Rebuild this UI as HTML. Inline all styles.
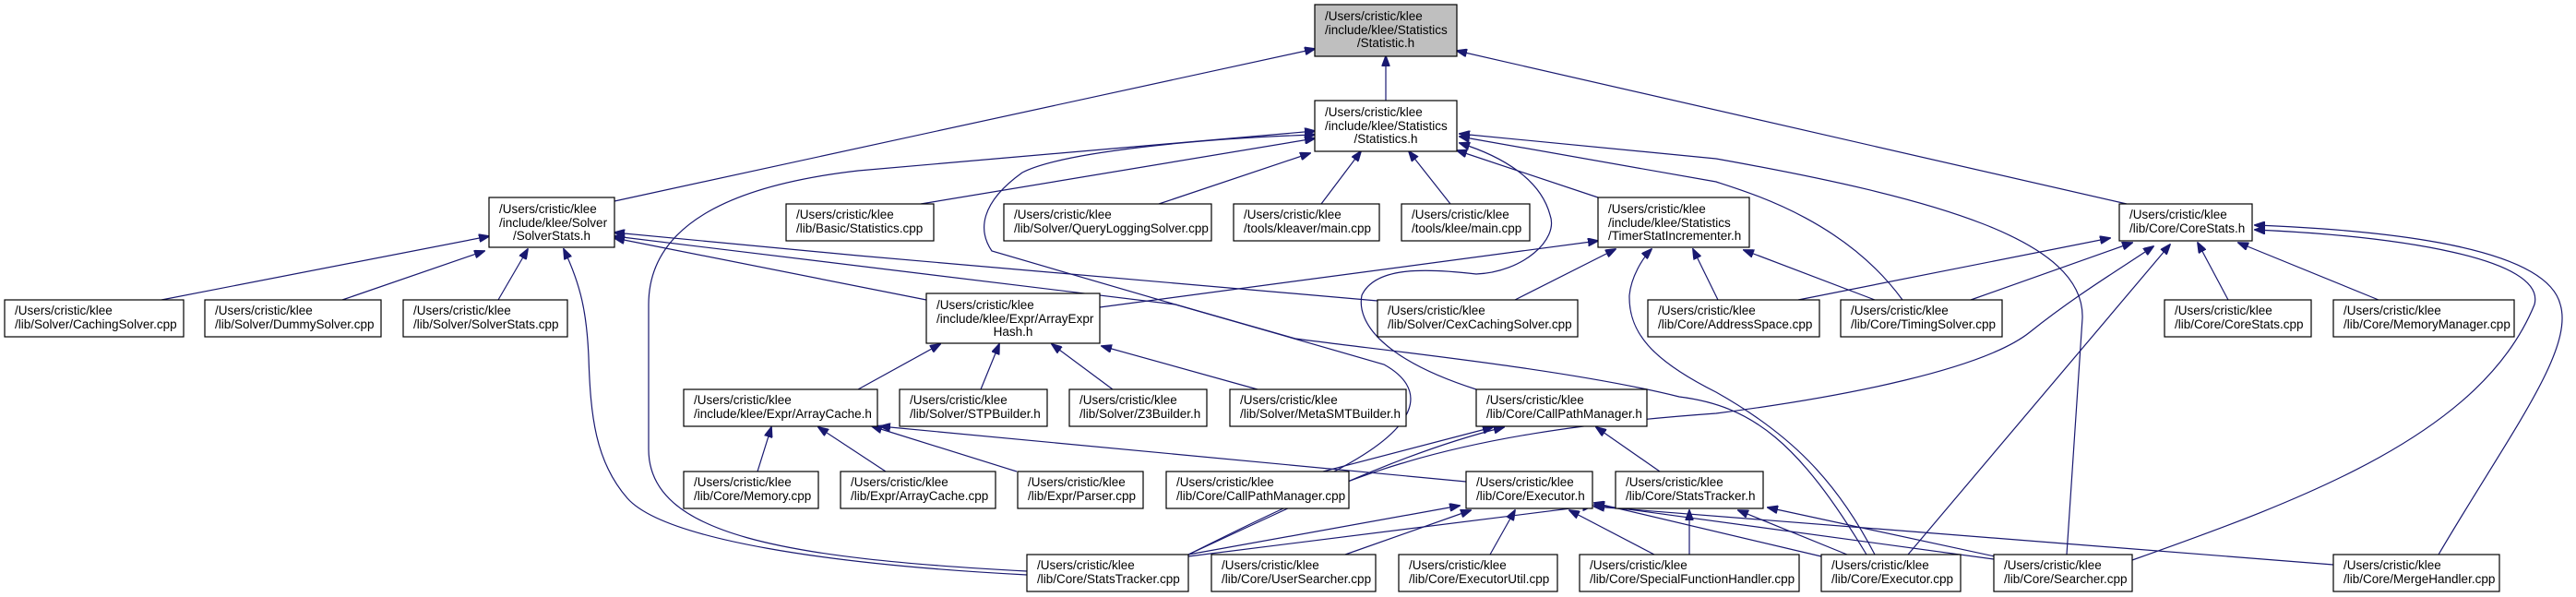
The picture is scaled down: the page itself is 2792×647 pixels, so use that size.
<!DOCTYPE html>
<html><head><meta charset="utf-8"><style>
html,body{margin:0;padding:0;background:#fff;}
svg{display:block;}
text{font-family:"Liberation Sans",sans-serif;font-size:13.5px;fill:#000;}
.e{fill:none;stroke:#191970;stroke-width:1.2;}
rect{stroke:#000;stroke-width:1.2;fill:#fff;}
</style></head><body>
<svg width="2792" height="647" viewBox="0 0 2792 647" xmlns="http://www.w3.org/2000/svg">
<defs><marker id="a" markerWidth="12" markerHeight="9" refX="11" refY="4.5" orient="auto" markerUnits="userSpaceOnUse"><path d="M0,0 L12,4.5 L0,9 z" fill="#191970" stroke="#191970"/></marker></defs>
<g class="e" marker-end="url(#a)">
<path d="M666,218 L1425,53"/>
<path d="M1502,109 L1502,61"/>
<path d="M2305,221 L1579,55"/>
<path d="M998,221 L1425,150"/>
<path d="M1256,221 L1420,166"/>
<path d="M1432,221 L1475,164"/>
<path d="M1572,221 L1527,164"/>
<path d="M1732,214 L1579,163"/>
<path d="M1113,619 C 850,605 703,580 703,487 L703,330 C 703,240 800,200 930,185 L1425,142"/>
<path d="M1113,623 C 900,612 720,585 680,540 C 645,500 640,450 638,387 C 636,340 630,310 611,270"/>
<path d="M1446,511 C 1545,460 1545,420 1500,395 L1274,330 L1075,272 C 1060,250 1062,220 1108,187 C 1150,165 1300,150 1425,146"/>
<path d="M2240,601 L2257,345 C 2260,260 2100,215 1860,172 L1582,145"/>
<path d="M2062,325 C 2000,240 1900,210 1860,197 L1582,148"/>
<path d="M1600,422 C 1500,390 1470,350 1476,320 C 1490,290 1540,290 1600,297 C 1650,295 1690,260 1680,233 C 1670,195 1630,170 1582,155"/>
<path d="M175,325 L530,256"/>
<path d="M371,325 L525,272"/>
<path d="M540,325 L572,270"/>
<path d="M1004,325 L666,258"/>
<path d="M1493,326 L930,277 L666,252"/>
<path d="M2023,601 C 1950,480 1900,440 1820,430 C 1700,400 1500,380 1404,367 L1274,330 L666,256"/>
<path d="M2032,601 C 1990,520 1940,470 1860,425 C 1790,390 1765,360 1766,320 C 1768,300 1780,280 1790,270"/>
<path d="M1642,325 L1751,270"/>
<path d="M1862,325 L1835,270"/>
<path d="M2032,325 L1890,271"/>
<path d="M930,422 L1019,373"/>
<path d="M1063,422 L1083,373"/>
<path d="M1206,422 L1140,373"/>
<path d="M1363,422 L1194,375"/>
<path d="M1192,333 L1732,261"/>
<path d="M1949,325 L2287,258"/>
<path d="M2136,325 L2311,263"/>
<path d="M2415,325 L2382,263"/>
<path d="M2578,325 L2426,263"/>
<path d="M2068,601 L2352,265"/>
<path d="M1288,601 C 1450,520 1550,470 1860,448 C 2000,430 2150,400 2200,360 C 2250,320 2300,290 2334,267"/>
<path d="M2643,601 C 2720,470 2790,380 2775,330 C 2760,270 2600,250 2444,244"/>
<path d="M2311,607 C 2500,540 2690,470 2747,330 C 2760,280 2600,256 2444,249"/>
<path d="M1434,511 L1618,463"/>
<path d="M1288,601 C 1420,540 1520,490 1630,463"/>
<path d="M1799,511 L1730,463"/>
<path d="M1288,601 L1582,548"/>
<path d="M1288,603 L1726,548"/>
<path d="M1458,601 L1594,553"/>
<path d="M1615,601 L1642,553"/>
<path d="M1793,601 L1701,553"/>
<path d="M1974,603 L1728,545"/>
<path d="M2161,606 L1728,547"/>
<path d="M2529,612 L1728,549"/>
<path d="M1589,522 L954,462"/>
<path d="M821,511 L836,463"/>
<path d="M960,511 L887,463"/>
<path d="M1102,511 L945,462"/>
<path d="M1831,601 L1831,553"/>
<path d="M2002,601 L1884,553"/>
<path d="M2162,603 L1916,550"/>
</g>
<g>
<rect x="1425" y="5" width="154" height="56" style="fill:#bfbfbf"/>
<text x="1436" y="22">/Users/cristic/klee</text><text x="1436" y="37">/include/klee/Statistics</text><text x="1502" y="51" text-anchor="middle">/Statistic.h</text>
<rect x="1425" y="109" width="154" height="55"/>
<text x="1436" y="126">/Users/cristic/klee</text><text x="1436" y="141">/include/klee/Statistics</text><text x="1502" y="155" text-anchor="middle">/Statistics.h</text>
<rect x="530" y="214" width="136" height="54"/>
<text x="541" y="231">/Users/cristic/klee</text><text x="541" y="246">/include/klee/Solver</text><text x="598" y="260" text-anchor="middle">/SolverStats.h</text>
<rect x="1732" y="214" width="164" height="54"/>
<text x="1743" y="231">/Users/cristic/klee</text><text x="1743" y="246">/include/klee/Statistics</text><text x="1743" y="260">/TimerStatIncrementer.h</text>
<rect x="1004" y="318" width="188" height="54"/>
<text x="1015" y="335">/Users/cristic/klee</text><text x="1015" y="350">/include/klee/Expr/ArrayExpr</text><text x="1098" y="364" text-anchor="middle">Hash.h</text>
</g>
<g>
<rect x="852" y="221" width="160" height="40"/><text x="863" y="237">/Users/cristic/klee</text><text x="863" y="252">/lib/Basic/Statistics.cpp</text>
<rect x="1088" y="221" width="225" height="40"/><text x="1099" y="237">/Users/cristic/klee</text><text x="1099" y="252">/lib/Solver/QueryLoggingSolver.cpp</text>
<rect x="1337" y="221" width="158" height="40"/><text x="1348" y="237">/Users/cristic/klee</text><text x="1348" y="252">/tools/kleaver/main.cpp</text>
<rect x="1519" y="221" width="139" height="40"/><text x="1530" y="237">/Users/cristic/klee</text><text x="1530" y="252">/tools/klee/main.cpp</text>
<rect x="2297" y="221" width="144" height="40"/><text x="2308" y="237">/Users/cristic/klee</text><text x="2308" y="252">/lib/Core/CoreStats.h</text>
<rect x="5" y="325" width="194" height="40"/><text x="16" y="341">/Users/cristic/klee</text><text x="16" y="356">/lib/Solver/CachingSolver.cpp</text>
<rect x="222" y="325" width="191" height="40"/><text x="233" y="341">/Users/cristic/klee</text><text x="233" y="356">/lib/Solver/DummySolver.cpp</text>
<rect x="437" y="325" width="178" height="40"/><text x="448" y="341">/Users/cristic/klee</text><text x="448" y="356">/lib/Solver/SolverStats.cpp</text>
<rect x="1493" y="325" width="217" height="40"/><text x="1504" y="341">/Users/cristic/klee</text><text x="1504" y="356">/lib/Solver/CexCachingSolver.cpp</text>
<rect x="1786" y="325" width="186" height="40"/><text x="1797" y="341">/Users/cristic/klee</text><text x="1797" y="356">/lib/Core/AddressSpace.cpp</text>
<rect x="1995" y="325" width="175" height="40"/><text x="2006" y="341">/Users/cristic/klee</text><text x="2006" y="356">/lib/Core/TimingSolver.cpp</text>
<rect x="2346" y="325" width="159" height="40"/><text x="2357" y="341">/Users/cristic/klee</text><text x="2357" y="356">/lib/Core/CoreStats.cpp</text>
<rect x="2529" y="325" width="196" height="40"/><text x="2540" y="341">/Users/cristic/klee</text><text x="2540" y="356">/lib/Core/MemoryManager.cpp</text>
<rect x="741" y="422" width="210" height="40"/><text x="752" y="438">/Users/cristic/klee</text><text x="752" y="453">/include/klee/Expr/ArrayCache.h</text>
<rect x="975" y="422" width="160" height="40"/><text x="986" y="438">/Users/cristic/klee</text><text x="986" y="453">/lib/Solver/STPBuilder.h</text>
<rect x="1159" y="422" width="149" height="40"/><text x="1170" y="438">/Users/cristic/klee</text><text x="1170" y="453">/lib/Solver/Z3Builder.h</text>
<rect x="1333" y="422" width="191" height="40"/><text x="1344" y="438">/Users/cristic/klee</text><text x="1344" y="453">/lib/Solver/MetaSMTBuilder.h</text>
<rect x="1600" y="422" width="185" height="40"/><text x="1611" y="438">/Users/cristic/klee</text><text x="1611" y="453">/lib/Core/CallPathManager.h</text>
<rect x="741" y="511" width="146" height="40"/><text x="752" y="527">/Users/cristic/klee</text><text x="752" y="542">/lib/Core/Memory.cpp</text>
<rect x="911" y="511" width="168" height="40"/><text x="922" y="527">/Users/cristic/klee</text><text x="922" y="542">/lib/Expr/ArrayCache.cpp</text>
<rect x="1103" y="511" width="136" height="40"/><text x="1114" y="527">/Users/cristic/klee</text><text x="1114" y="542">/lib/Expr/Parser.cpp</text>
<rect x="1264" y="511" width="198" height="40"/><text x="1275" y="527">/Users/cristic/klee</text><text x="1275" y="542">/lib/Core/CallPathManager.cpp</text>
<rect x="1589" y="511" width="137" height="40"/><text x="1600" y="527">/Users/cristic/klee</text><text x="1600" y="542">/lib/Core/Executor.h</text>
<rect x="1751" y="511" width="160" height="40"/><text x="1762" y="527">/Users/cristic/klee</text><text x="1762" y="542">/lib/Core/StatsTracker.h</text>
<rect x="1113" y="601" width="175" height="40"/><text x="1124" y="617">/Users/cristic/klee</text><text x="1124" y="632">/lib/Core/StatsTracker.cpp</text>
<rect x="1313" y="601" width="178" height="40"/><text x="1324" y="617">/Users/cristic/klee</text><text x="1324" y="632">/lib/Core/UserSearcher.cpp</text>
<rect x="1516" y="601" width="172" height="40"/><text x="1527" y="617">/Users/cristic/klee</text><text x="1527" y="632">/lib/Core/ExecutorUtil.cpp</text>
<rect x="1712" y="601" width="238" height="40"/><text x="1723" y="617">/Users/cristic/klee</text><text x="1723" y="632">/lib/Core/SpecialFunctionHandler.cpp</text>
<rect x="1974" y="601" width="151" height="40"/><text x="1985" y="617">/Users/cristic/klee</text><text x="1985" y="632">/lib/Core/Executor.cpp</text>
<rect x="2161" y="601" width="150" height="40"/><text x="2172" y="617">/Users/cristic/klee</text><text x="2172" y="632">/lib/Core/Searcher.cpp</text>
<rect x="2529" y="601" width="180" height="40"/><text x="2540" y="617">/Users/cristic/klee</text><text x="2540" y="632">/lib/Core/MergeHandler.cpp</text>
</g>
</svg>
</body></html>
